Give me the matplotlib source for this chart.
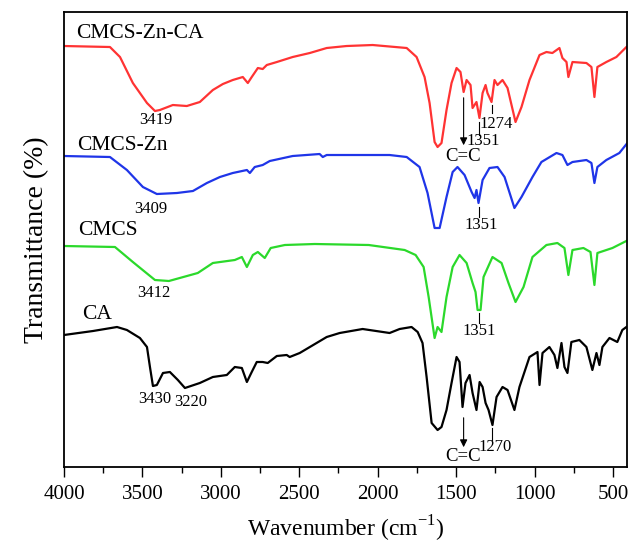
import numpy as np
import matplotlib
matplotlib.use('Agg')
import matplotlib.pyplot as plt
from matplotlib.ticker import MultipleLocator

plt.rcParams['font.family'] = ['Liberation Serif', 'DejaVu Serif']
plt.rcParams['mathtext.fontset'] = 'custom'
plt.rcParams['mathtext.rm'] = 'Liberation Serif'

# spectra (wavenumber, transmittance in arbitrary offset units)
zn_ca_wn = [4000, 3707, 3643, 3561, 3471, 3420, 3389, 3306, 3217, 3134, 3051, 2987, 2924, 2860,
            2828, 2803, 2764, 2733, 2707, 2643, 2542, 2433, 2325, 2198, 2032, 1815, 1752, 1701,
            1669, 1637, 1618, 1593, 1561, 1529, 1497, 1472, 1452, 1433, 1408, 1395, 1370, 1351,
            1331, 1312, 1300, 1274, 1255, 1236, 1204, 1172, 1121, 1083, 1032, 968, 924, 886, 841,
            822, 796, 784, 758, 669, 637, 618, 599, 542, 478, 414]
zn_ca_t = [421, 420, 410, 384, 364, 356, 357, 362, 361, 365, 377, 383, 387, 390,
           384, 390, 399, 398, 402, 405, 410, 414, 419, 421, 422, 419, 410, 390,
           364, 325, 320, 324, 357, 384, 399, 395, 375, 387, 382, 359, 365, 349,
           374, 382, 374, 365, 387, 382, 387, 379, 345, 360, 387, 412, 415, 414, 419,
           409, 405, 390, 405, 404, 400, 370, 400, 405, 410, 420]

zn_wn = [4000, 3707, 3599, 3497, 3408, 3280, 3178, 3089, 3006, 2924, 2834, 2815, 2784, 2733,
         2688, 2542, 2370, 2350, 2325, 2178, 1924, 1815, 1733, 1682, 1637, 1605, 1561, 1522,
         1491, 1446, 1401, 1382, 1370, 1357, 1331, 1287, 1236, 1191, 1128, 1083, 1013, 956,
         860, 822, 790, 758, 669, 637, 618, 599, 542, 459, 408]
zn_t = [311, 310, 297, 280, 273, 274, 276, 284, 290, 294, 297, 294, 300, 302,
        306, 311, 313, 310, 312, 312, 312, 310, 300, 274, 239, 239, 270, 295,
        300, 292, 275, 269, 277, 264, 287, 299, 300, 290, 259, 270, 290, 305,
        314, 312, 302, 305, 307, 304, 284, 300, 307, 314, 324]

cmcs_wn = [4000, 3675, 3561, 3420, 3331, 3147, 3051, 2911, 2866, 2834, 2796, 2764, 2720, 2682,
           2592, 2401, 2057, 1828, 1758, 1707, 1675, 1637, 1618, 1593, 1561, 1522, 1478, 1433,
           1395, 1376, 1363, 1344, 1325, 1268, 1210, 1166, 1121, 1070, 1013, 924, 854, 809,
           784, 758, 688, 643, 618, 599, 503, 402]
cmcs_t = [221, 220, 205, 187, 186, 194, 204, 207, 210, 200, 212, 215, 209, 219,
          222, 223, 222, 217, 212, 200, 170, 129, 140, 135, 170, 200, 212, 204,
          184, 175, 157, 157, 190, 210, 204, 184, 165, 180, 210, 222, 224, 219,
          192, 217, 219, 215, 182, 214, 219, 227]

ca_wn = [4000, 3815, 3662, 3599, 3516, 3471, 3452, 3433, 3408, 3369, 3325, 3274, 3229, 3134,
         3051, 2962, 2911, 2866, 2834, 2803, 2771, 2733, 2701, 2643, 2580, 2561, 2497, 2325,
         2242, 2096, 1924, 1860, 1784, 1745, 1714, 1688, 1656, 1618, 1593, 1561, 1529, 1497,
         1478, 1459, 1440, 1414, 1395, 1370, 1350, 1331, 1312, 1293, 1268, 1242, 1204, 1172,
         1128, 1096, 1032, 981, 968, 949, 905, 873, 854, 828, 809, 790, 765, 714, 669, 631,
         605, 586, 567, 522, 472, 440, 414]
ca_t = [132, 136, 140, 137, 129, 120, 100, 81, 82, 94, 95, 87, 79, 84,
        90, 92, 100, 99, 85, 95, 105, 105, 104, 111, 112, 110, 114, 130,
        134, 138, 134, 138, 140, 135, 124, 90, 44, 37, 40, 57, 84, 110,
        105, 60, 84, 92, 74, 57, 85, 80, 64, 57, 42, 70, 80, 77,
        57, 80, 110, 115, 82, 114, 120, 112, 99, 124, 100, 94, 125, 127, 120, 97,
        114, 102, 120, 129, 125, 137, 140]

series = [
    ('CMCS-Zn-CA', zn_ca_wn, zn_ca_t, '#ff3333', (3924, 434)),
    ('CMCS-Zn', zn_wn, zn_t, '#1f35e8', (3917, 322)),
    ('CMCS', cmcs_wn, cmcs_t, '#2bd92b', (3911, 237)),
    ('CA', ca_wn, ca_t, 'black', (3885, 152)),
]

# peak labels: (text, x, y)
peak_labels = [
    ('3419', 3414, 347), ('3409', 3446, 258), ('3412', 3427, 174),
    ('3430', 3420, 68), ('3220', 3191, 65),
    ('1351', 1325, 326), ('1274', 1242, 343),
    ('1351', 1338, 242), ('1351', 1350, 136), ('1270', 1249, 20),
]
# short marker lines: (x, y0, y1)
peak_lines = [(1351, 345, 332), (1268, 362, 354), (1357, 260, 250),
              (1351, 154, 144), (1274, 39, 27)]
# C=C arrows: (x, y_start, y_tip, text_y)
cc_arrows = [(1452, 372, 319, 311), (1452, 52, 17, 10)]

fig = plt.figure(figsize=(6.3, 5.46), dpi=100)
ax = fig.add_axes([0.1016, 0.1447, 0.8937, 0.8333])

for name, wn, t, col, (lx, ly) in series:
    ax.plot(wn, t, color=col, lw=1.6)
    ax.text(lx, ly, name, fontsize=15.5, ha='left', va='center')

for txt, x, y in peak_labels:
    ax.text(x, y, txt, fontsize=12, ha='center', va='center')
for x, y0, y1 in peak_lines:
    ax.plot([x, x], [y0, y1], color='black', lw=0.8)
for x, ys, yt, ty in cc_arrows:
    ax.annotate('', xy=(x, yt), xytext=(x, ys),
                arrowprops=dict(arrowstyle='-|>', color='black', lw=0.8, mutation_scale=11))
    ax.text(x + 6, ty, 'C=C', fontsize=13.5, ha='center', va='center')

ax.set_xlim(4000, 410)
ax.set_ylim(0, 455)
ax.xaxis.set_major_locator(MultipleLocator(500))
ax.xaxis.set_minor_locator(MultipleLocator(250))
ax.tick_params(axis='x', which='major', direction='out', length=7, width=1, labelsize=15, pad=6)
ax.tick_params(axis='x', which='minor', direction='out', length=4, width=1)
ax.set_yticks([])
for s in ax.spines.values():
    s.set_linewidth(1.3)

ax.set_xlabel('Wavenumber (cm$^{-1}$)', fontsize=17, labelpad=7)
ax.set_ylabel('Transmittance (%)', fontsize=20, labelpad=11)

fig.savefig('out.png', dpi=100)
